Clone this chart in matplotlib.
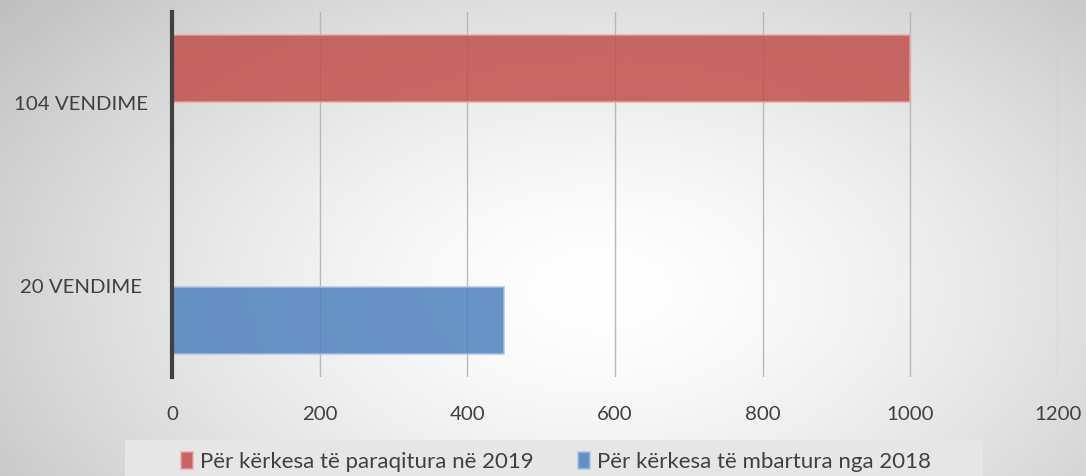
import numpy as np
import matplotlib
matplotlib.use("Agg")
import matplotlib.pyplot as plt
from matplotlib.patches import Rectangle

# data
categories = ["20 VENDIME", "104 VENDIME"]
series_names = ["Për kërkesa të paraqitura në 2019", "Për kërkesa të mbartura nga 2018"]
vals_2019 = [0, 1000]
vals_2018 = [450, 0]
xticks = [0, 200, 400, 600, 800, 1000, 1200]

plt.rcParams["font.family"] = ["Lato", "DejaVu Sans"]

fig = plt.figure(figsize=(10.86, 4.76), dpi=100)

# radial grey background
bg = fig.add_axes([0, 0, 1, 1], zorder=-10)
yy, xx = np.mgrid[0:476, 0:1086]
r = np.hypot((xx - 600) / 700.0, (yy - 290) / 420.0)
shade = 1.0 - 0.22 * np.clip(r, 0, 1.2) ** 1.5
bg.imshow(np.dstack([shade] * 3), aspect="auto", extent=[0, 1, 0, 1], origin="upper")
bg.set_axis_off()

ax = fig.add_axes([172 / 1086, 1 - 377 / 476, 886 / 1086, 365 / 476])
ax.patch.set_alpha(0)

y = np.arange(len(categories))
h = 0.367
off = 0.19
ax.barh(y + off, vals_2019, height=h, color="#c0504d", alpha=0.85,
        edgecolor="#e8a6a4", linewidth=1.2, label=series_names[0], zorder=3)
ax.barh(y - off, vals_2018, height=h, color="#4f81bd", alpha=0.85,
        edgecolor="#a6c3e6", linewidth=1.2, label=series_names[1], zorder=3)

ax.set_xlim(0, 1200)
ax.set_ylim(-0.5, 1.5)
ax.set_xticks(xticks)
ax.set_yticks(y)
ax.set_yticklabels(categories, ha="center")
ax.xaxis.grid(True, color="#b8b8b8", linewidth=1.0, zorder=0)
ax.set_axisbelow(True)
for s in ["top", "right", "bottom"]:
    ax.spines[s].set_visible(False)
ax.spines["left"].set_color("#404040")
ax.spines["left"].set_linewidth(3)
ax.spines["left"].set_zorder(5)
ax.tick_params(axis="both", length=0, labelsize=14.7, colors="#404040")
ax.tick_params(axis="x", pad=21)
ax.tick_params(axis="y", pad=65.5)

# legend box
fig.patches.append(Rectangle((125 / 1086, 0), 858 / 1086, 36 / 476,
                             transform=fig.transFigure, facecolor="#e6e6e6",
                             edgecolor="none", zorder=-5))
leg = fig.legend(loc="center", bbox_to_anchor=(556 / 1086, 1 - 462 / 476),
                 ncol=2, frameon=False, fontsize=16, handlelength=0.55,
                 handleheight=0.8, handletextpad=0.3, columnspacing=2.0,
                 borderpad=0, borderaxespad=0)
for text in leg.get_texts():
    text.set_color("#404040")

fig.savefig("out.png", dpi=100)
